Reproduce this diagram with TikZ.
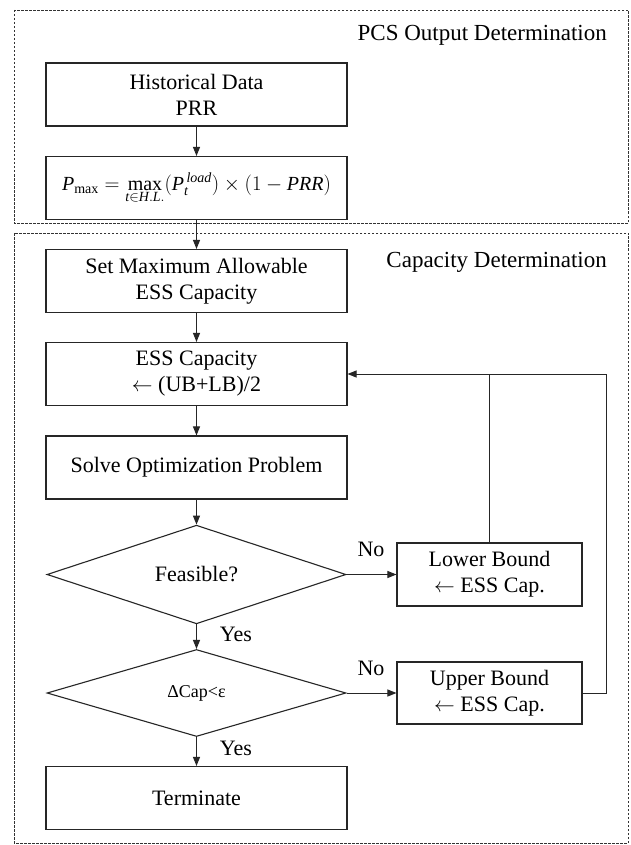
\documentclass[tikz,border=0pt]{standalone}
\usepackage{fontspec}
\setmainfont{Liberation Serif}
\usetikzlibrary{arrows.meta,shapes.geometric}
\begin{document}
\begin{tikzpicture}[x=1pt,y=-1pt,
  txt/.style={font=\fontsize{22}{26}\selectfont},
  title/.style={font=\fontsize{23}{27}\selectfont, anchor=east, inner sep=0pt},
  box/.style={draw=black!85, line width=1.1pt, minimum width=301pt, minimum height=63pt, align=center, inner sep=0pt, txt},
  sbox/.style={draw=black!85, line width=1.1pt, minimum width=185pt, minimum height=63pt, align=center, inner sep=0pt, txt},
  dec/.style={draw=black!85, line width=1.1pt, diamond, minimum width=299pt, minimum height=87pt, inner sep=0pt, txt},
  dashbox/.style={draw=black!80, line width=0.8pt, dash pattern=on 2.5pt off 1.5pt},
  arr/.style={draw=black!85, line width=1pt, -{Triangle[length=9pt,width=7pt]}},
  ln/.style={draw=black!85, line width=1pt},
  lbl/.style={txt, inner sep=0pt}
]
\useasboundingbox (0,0) rectangle (630,845);
\fill[white] (0,0) rectangle (630,845);
\draw[dashbox] (14,10) rectangle (628,223);
\draw[dashbox] (14,233) rectangle (628,843);

\node[title] (t1) at (607,35) {PCS Output Determination};
\node[title] (t2) at (607,262) {Capacity Determination};

\node[box] (hist) at (196.5,94.5) {Historical Data\\PRR};
\node[box, font=\fontsize{20}{24}\selectfont] (pmax) at (196.5,188) {$\mathit{P}_{\mathrm{max}} = \max\limits_{\mathit{t}\in \mathit{H.L.}}(\mathit{P}_{\mathit{t}}^{\,\mathit{load}})\times(1-\mathit{PRR})$};
\node[box] (setmax) at (196.5,281) {Set Maximum Allowable\\ESS Capacity};
\node[box] (ess) at (196.5,374) {ESS Capacity\\$\leftarrow$ (UB+LB)/2};
\node[box] (solve) at (196.5,467.5) {Solve Optimization Problem};
\node[dec] (feas) at (196.5,574.5) {Feasible?};
\node[dec, font=\fontsize{18}{22}\selectfont] (dcap) at (196.5,693) {ΔCap<ε};
\node[box] (term) at (196.5,798) {Terminate};
\node[sbox] (lower) at (489.5,574.5) {Lower Bound\\$\leftarrow$ ESS Cap.};
\node[sbox, minimum height=62pt] (upper) at (489.5,693) {Upper Bound\\$\leftarrow$ ESS Cap.};
\coordinate (rc) at (606,374);

\draw[arr] (hist) -- (pmax);
\draw[arr] (pmax) -- (setmax);
\draw[arr] (setmax) -- (ess);
\draw[arr] (ess) -- (solve);
\draw[arr] (solve) -- (feas);
\draw[arr] (feas) -- (dcap);
\draw[arr] (dcap) -- (term);
\draw[arr] (feas.east) -- (lower.west);
\draw[arr] (dcap.east) -- (upper.west);
\draw[ln] (lower.north) -- (lower.north |- rc);
\draw[arr] (upper.east) -| (rc) -- (ess.east);

\node[lbl] (no1) at (371,549) {No};
\node[lbl] (no2) at (371,668) {No};
\node[lbl] (yes1) at (236,634) {Yes};
\node[lbl] (yes2) at (236,748) {Yes};
\end{tikzpicture}
\end{document}
